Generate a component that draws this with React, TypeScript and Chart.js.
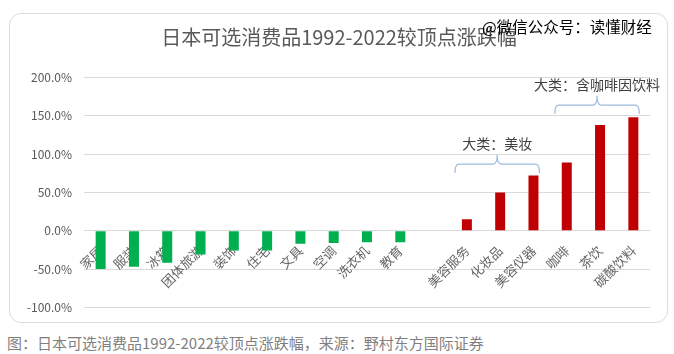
import React, { useEffect, useRef } from 'react';
import { Chart, registerables } from 'chart.js';

Chart.register(...registerables);

const titleText = '日本可选消费品1992-2022较顶点涨跌幅';
const captionText = '图：日本可选消费品1992-2022较顶点涨跌幅，来源：野村东方国际证券';
const watermarkText = '@微信公众号：读懂财经';

const categories = ['家居', '服装', '冰箱', '团体旅游', '装饰', '住宅', '文具', '空调', '洗衣机', '教育', '', '美容服务', '化妆品', '美容仪器', '咖啡', '茶饮', '碳酸饮料'];
const changes: (number | null)[] = [-50, -47, -42, -31, -26, -26, -17, -16, -15, -15, null, 15, 50, 72, 89, 138, 148];

const yMin = -100;
const yMax = 200;
const yStep = 50;

const groupLabels = ['大类：美妆', '大类：含咖啡因饮料'];
const groupFirst = [11, 14];
const groupLast = [13, 16];
const groupLevel = [87, 164];

const FONT = "'Noto Sans CJK SC', 'Noto Sans', sans-serif";

const bracketPlugin = {
  id: 'brackets',
  afterDatasetsDraw(chart: any) {
    const { ctx, scales } = chart;
    const xs = scales.x;
    const ys = scales.y;
    ctx.save();
    groupLabels.forEach((label, i) => {
      const x0 = xs.getPixelForValue(groupFirst[i]) - 12;
      const x1 = xs.getPixelForValue(groupLast[i]) + 6;
      const yLine = ys.getPixelForValue(groupLevel[i]);
      const yEnd = yLine + 9;
      const yPeak = yLine - 9;
      const mid = (x0 + x1) / 2;
      const r = 4;
      ctx.beginPath();
      ctx.strokeStyle = '#9dbbdd';
      ctx.lineWidth = 1.2;
      ctx.moveTo(x0, yEnd);
      ctx.quadraticCurveTo(x0, yLine, x0 + r, yLine);
      ctx.lineTo(mid - r, yLine);
      ctx.quadraticCurveTo(mid, yLine, mid, yPeak);
      ctx.quadraticCurveTo(mid, yLine, mid + r, yLine);
      ctx.lineTo(x1 - r, yLine);
      ctx.quadraticCurveTo(x1, yLine, x1, yEnd);
      ctx.stroke();
      ctx.fillStyle = '#404040';
      ctx.font = `14px ${FONT}`;
      ctx.textAlign = 'center';
      ctx.textBaseline = 'middle';
      ctx.fillText(label, mid, yLine - 20);
    });
    ctx.restore();
  },
};

export default function App() {
  const ref = useRef<HTMLCanvasElement | null>(null);

  useEffect(() => {
    if (!ref.current) return;
    const chart = new Chart(ref.current, {
      type: 'bar',
      data: {
        labels: categories,
        datasets: [
          {
            data: changes as any,
            backgroundColor: (c: any) => ((c.raw ?? 0) < 0 ? '#00b050' : '#c00000'),
            barPercentage: 0.3,
            categoryPercentage: 1,
          },
        ],
      },
      options: {
        responsive: false,
        animation: false,
        layout: { padding: { left: 0, right: 0, top: 0, bottom: 19.7 } },
        plugins: {
          legend: { display: false },
          tooltip: { enabled: false },
          title: {
            display: true,
            text: titleText,
            color: '#595959',
            font: { family: FONT, size: 20, weight: 'normal' as any },
            padding: { top: 11, bottom: 28.5 },
          },
        },
        scales: {
          x: {
            type: 'category',
            position: { y: 0 } as any,
            grid: { display: false, drawTicks: false },
            border: { display: false },
            ticks: {
              autoSkip: false,
              minRotation: 45,
              maxRotation: 45,
              color: '#666666',
              font: { family: FONT, size: 13 },
              padding: 12,
            },
          },
          y: {
            min: yMin,
            max: yMax,
            ticks: {
              stepSize: yStep,
              callback: (v: any) => Number(v).toFixed(1) + '%',
              color: '#595959',
              font: { family: FONT, size: 12 },
              padding: 12,
            },
            grid: { color: '#d9d9d9', drawTicks: false },
            border: { display: false },
            afterFit: (s: any) => {
              s.width = 74;
            },
          },
          yRightSpace: {
            type: 'linear',
            position: 'right',
            display: true,
            grid: { display: false, drawTicks: false },
            border: { display: false },
            ticks: { display: false },
            afterFit: (s: any) => {
              s.width = 18;
            },
          },
        },
      },
      plugins: [bracketPlugin],
    });
    return () => chart.destroy();
  }, []);

  return (
    <div style={{ position: 'absolute', left: 0, top: 0, width: 674, height: 354, background: '#fff', overflow: 'hidden' }}>
      <div
        style={{
          position: 'absolute',
          left: 9,
          top: 13,
          width: 657,
          height: 308,
          border: '1.5px solid #dcdcdc',
          borderRadius: 12,
        }}
      />
      <canvas ref={ref} width={658} height={313} style={{ position: 'absolute', left: 10, top: 14 }} />
      <div
        style={{
          position: 'absolute',
          left: 482,
          top: 18,
          fontFamily: FONT,
          fontSize: 15.5,
          lineHeight: '16px',
          color: '#000',
          whiteSpace: 'nowrap',
        }}
      >
        {watermarkText}
      </div>
      <div
        style={{
          position: 'absolute',
          left: 7,
          top: 335,
          fontFamily: FONT,
          fontSize: 15,
          lineHeight: '15px',
          color: '#7f7f7f',
          whiteSpace: 'nowrap',
        }}
      >
        {captionText}
      </div>
    </div>
  );
}
